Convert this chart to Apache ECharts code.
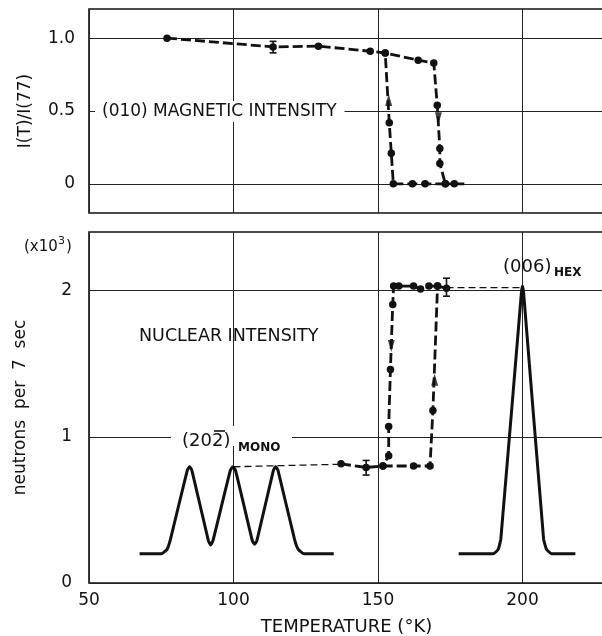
<!DOCTYPE html>
<html>
<head>
<meta charset="utf-8">
<script src="https://cdn.jsdelivr.net/npm/echarts@6/dist/echarts.min.js"></script>
<style>
html,body{margin:0;padding:0;background:#fff;}
#c{width:602px;height:636px;}
</style>
</head>
<body>
<div id="c"></div>
<script>
// ---------- data ----------
const xTicks = [50, 100, 150, 200];
const magTicks = [0, 0.5, 1.0];
const magTickLabels = ['0', '0.5', '1.0'];
const nucTicks = [0, 1, 2];
const nucTickLabels = ['0', '1', '2'];

// (010) magnetic intensity, warming branch
const magWarmT = [77, 113.7, 129.4, 147.3, 152.5, 163.9, 169.3, 170.5, 171.4, 171.4, 173.3, 176.4];
const magWarmI = [1.0, 0.94, 0.945, 0.91, 0.898, 0.849, 0.83, 0.54, 0.243, 0.14, 0, 0];
const magTailT = [176.4, 180.3];
const magTailI = [0, 0];
// cooling branch
const magCoolT = [173.3, 166.3, 161.9, 155.3, 154.6, 153.9, 152.5];
const magCoolI = [0, 0, 0, 0, 0.21, 0.42, 0.898];
// error bar
const magErrT = [113.7];
const magErrLo = [0.899];
const magErrHi = [0.978];
// arrows
const magArrowT = [153.7, 170.9];
const magArrowI = [0.575, 0.45];
const magArrowDir = ['up', 'down'];

// nuclear intensity (x10^3 neutrons per 7 sec)
const nucWarmT = [137.2, 145.9, 151.7, 162.3, 168.0, 169.0, 170.6, 173.7];
const nucWarmN = [0.815, 0.79, 0.80, 0.80, 0.80, 1.18, 2.03, 2.015];
const nucCoolT = [170.6, 167.6, 164.7, 162.3, 157.2, 155.4, 155.1, 154.3, 153.7, 153.7, 151.7];
const nucCoolN = [2.03, 2.03, 2.01, 2.03, 2.03, 2.03, 1.905, 1.46, 1.07, 0.87, 0.80];
const nucErrT = [145.9, 173.7];
const nucErrLo = [0.738, 1.961];
const nucErrHi = [0.838, 2.084];
const nucArrowT = [154.6, 169.6];
const nucArrowN = [1.62, 1.39];
const nucArrowDir = ['down', 'up'];

// dashed links
const monoLinkT = [100, 137.2];
const monoLinkN = [0.795, 0.812];
const hexLinkT = [173.7, 200];
const hexLinkN = [2.02, 2.02];

// (20-2) mono peak scan profile
const monoT = [67.5, 75.0, 77.0, 78.2, 84.0, 84.8, 85.6, 91.3, 92.1, 92.9, 98.9, 99.8, 100.7, 106.5, 107.3, 108.1, 113.8, 114.6, 115.4, 121.1, 122.4, 124.4, 134.7];
const monoN = [0.20, 0.20, 0.23, 0.30, 0.77, 0.795, 0.77, 0.29, 0.26, 0.29, 0.77, 0.795, 0.77, 0.29, 0.265, 0.29, 0.77, 0.795, 0.77, 0.30, 0.23, 0.20, 0.20];
// (006) hex peak scan profile
const hexT = [177.9, 190.0, 191.6, 192.5, 199.6, 200.0, 200.4, 207.3, 208.3, 210.0, 218.3];
const hexN = [0.20, 0.20, 0.23, 0.30, 1.98, 2.03, 1.98, 0.30, 0.23, 0.20, 0.20];

// ---------- helpers ----------
const zip = (a, b) => a.map((v, i) => [v, b[i]]);
const FONT = 'DejaVu Sans';
const INK = '#111';
const near = (v, arr) => arr.findIndex(t => Math.abs(t - v) < 1e-6);

function loopSeries(xi, yi, t, v, showSym) {
  return {
    type: 'line', xAxisIndex: xi, yAxisIndex: yi,
    data: zip(t, v),
    symbol: showSym ? 'circle' : 'none', symbolSize: 7.5,
    itemStyle: {color: INK},
    lineStyle: {color: INK, width: 2.8, type: [10, 4]},
    animation: false, z: 5
  };
}
function errSeries(xi, yi, t, lo, hi) {
  return {
    type: 'custom', xAxisIndex: xi, yAxisIndex: yi,
    data: t.map((x, i) => [x, lo[i], hi[i]]),
    renderItem: function (params, api) {
      const a = api.coord([api.value(0), api.value(1)]);
      const b = api.coord([api.value(0), api.value(2)]);
      const w = 3.5;
      const st = {stroke: INK, lineWidth: 1.6};
      return {type: 'group', children: [
        {type: 'line', shape: {x1: a[0], y1: a[1], x2: b[0], y2: b[1]}, style: st},
        {type: 'line', shape: {x1: a[0] - w, y1: a[1], x2: a[0] + w, y2: a[1]}, style: st},
        {type: 'line', shape: {x1: b[0] - w, y1: b[1], x2: b[0] + w, y2: b[1]}, style: st}
      ]};
    },
    animation: false, z: 6
  };
}
function arrowSeries(xi, yi, t, v, dir) {
  return {
    type: 'scatter', xAxisIndex: xi, yAxisIndex: yi,
    data: t.map((x, i) => ({value: [x, v[i]], symbolRotate: dir[i] === 'up' ? 0 : 180})),
    symbol: 'triangle', symbolSize: [7, 12],
    itemStyle: {color: INK}, animation: false, z: 6
  };
}
function gridLines(xi, yi, vals) {
  return {
    type: 'line', xAxisIndex: xi, yAxisIndex: yi, data: [],
    markLine: {
      silent: true, symbol: ['none', 'none'], animation: false,
      label: {show: false},
      lineStyle: {color: '#222', width: 1, type: 'solid'},
      data: vals.map(v => ({yAxis: v}))
    }, z: 1
  };
}

const xAxisBase = {
  type: 'value', min: 50, max: 228.2, interval: 50,
  axisTick: {show: false},
  axisLine: {show: false},
  splitLine: {show: true, lineStyle: {color: '#222', width: 1}}
};

const option = {
  backgroundColor: '#fff',
  animation: false,
  grid: [
    {left: 89, top: 9, right: -2, height: 204, show: true, borderColor: INK, borderWidth: 1.6,
      backgroundColor: 'transparent', outerBoundsMode: 'none', containLabel: false},
    {left: 89, top: 232, right: -2, height: 351, show: true, borderColor: INK, borderWidth: 1.6,
      backgroundColor: 'transparent', outerBoundsMode: 'none', containLabel: false}
  ],
  xAxis: [
    Object.assign({}, xAxisBase, {gridIndex: 0, axisLabel: {show: false}}),
    Object.assign({}, xAxisBase, {
      gridIndex: 1,
      axisLabel: {show: true, margin: 9, color: INK, fontFamily: FONT, fontSize: 17,
        formatter: v => (near(v, xTicks) >= 0 ? String(v) : '')},
      name: 'TEMPERATURE (°K)', nameLocation: 'middle', nameGap: 35,
      nameTextStyle: {color: INK, fontFamily: FONT, fontSize: 18}
    })
  ],
  yAxis: [
    {
      type: 'value', gridIndex: 0, min: -0.2, max: 1.2, interval: 0.1,
      axisTick: {show: false}, axisLine: {show: false}, splitLine: {show: false},
      axisLabel: {margin: 14, color: INK, fontFamily: FONT, fontSize: 17,
        formatter: v => { const k = near(v, magTicks); return k >= 0 ? magTickLabels[k] : ''; }},
      name: 'I(T)/I(77)', nameLocation: 'middle', nameGap: 55,
      nameTextStyle: {color: INK, fontFamily: FONT, fontSize: 17}
    },
    {
      type: 'value', gridIndex: 1, min: 0, max: 2.4, interval: 1,
      axisTick: {show: false}, axisLine: {show: false}, splitLine: {show: false},
      axisLabel: {margin: 17, color: INK, fontFamily: FONT, fontSize: 17,
        formatter: v => { const k = near(v, nucTicks); return k >= 0 ? nucTickLabels[k] : ''; }},
      name: 'neutrons  per  7  sec', nameLocation: 'middle', nameGap: 60,
      nameTextStyle: {color: INK, fontFamily: FONT, fontSize: 17}
    }
  ],
  series: [
    gridLines(0, 0, magTicks),
    gridLines(1, 1, nucTicks),
    loopSeries(0, 0, magWarmT, magWarmI, true),
    loopSeries(0, 0, magTailT, magTailI, false),
    loopSeries(0, 0, magCoolT, magCoolI, true),
    errSeries(0, 0, magErrT, magErrLo, magErrHi),
    arrowSeries(0, 0, magArrowT, magArrowI, magArrowDir),
    loopSeries(1, 1, nucWarmT, nucWarmN, true),
    loopSeries(1, 1, nucCoolT, nucCoolN, true),
    errSeries(1, 1, nucErrT, nucErrLo, nucErrHi),
    arrowSeries(1, 1, nucArrowT, nucArrowN, nucArrowDir),
    {type: 'line', xAxisIndex: 1, yAxisIndex: 1, data: zip(monoLinkT, monoLinkN), symbol: 'none',
      lineStyle: {color: INK, width: 1.3, type: [7, 4]}, z: 4},
    {type: 'line', xAxisIndex: 1, yAxisIndex: 1, data: zip(hexLinkT, hexLinkN), symbol: 'none',
      lineStyle: {color: INK, width: 1.3, type: [7, 4]}, z: 4},
    {type: 'line', xAxisIndex: 1, yAxisIndex: 1, data: zip(monoT, monoN), symbol: 'none', smooth: 0.15,
      lineStyle: {color: INK, width: 3}, z: 5},
    {type: 'line', xAxisIndex: 1, yAxisIndex: 1, data: zip(hexT, hexN), symbol: 'none', smooth: 0.1,
      lineStyle: {color: INK, width: 3}, z: 5}
  ],
  graphic: [
    {type: 'text', left: 95, top: 101, z: 10, style: {text: '(010) MAGNETIC INTENSITY', font: '17px "DejaVu Sans"', fill: INK, backgroundColor: '#fff', padding: [2, 8, 2, 7]}},
    {type: 'text', left: 139, top: 327, z: 10, style: {text: 'NUCLEAR INTENSITY', font: '17.5px "DejaVu Sans"', fill: INK}},
    {type: 'rect', left: 171, top: 426, z: 9, shape: {width: 121, height: 20}, style: {fill: '#fff'}},
    {type: 'text', left: 182, top: 432, z: 10, style: {text: '(202)', font: '18px "DejaVu Sans"', fill: INK}},
    {type: 'line', z: 10, shape: {x1: 214, y1: 431, x2: 225, y2: 431}, style: {stroke: INK, lineWidth: 1.6}},
    {type: 'text', left: 238, top: 442, z: 10, style: {text: 'MONO', font: 'bold 12px "DejaVu Sans"', fill: INK}},
    {type: 'text', left: 503, top: 258, z: 10, style: {text: '(006)', font: '18px "DejaVu Sans"', fill: INK}},
    {type: 'text', left: 554, top: 267, z: 10, style: {text: 'HEX', font: 'bold 12px "DejaVu Sans"', fill: INK}},
    {type: 'text', left: 24, top: 240, z: 10, style: {text: '(x10', font: '15px "DejaVu Sans"', fill: INK}},
    {type: 'text', left: 58, top: 236, z: 10, style: {text: '3', font: '11px "DejaVu Sans"', fill: INK}},
    {type: 'text', left: 66, top: 240, z: 10, style: {text: ')', font: '15px "DejaVu Sans"', fill: INK}}
  ]
};

const chart = echarts.init(document.getElementById('c'), null, {renderer: 'canvas'});
chart.setOption(option);
</script>
</body>
</html>
